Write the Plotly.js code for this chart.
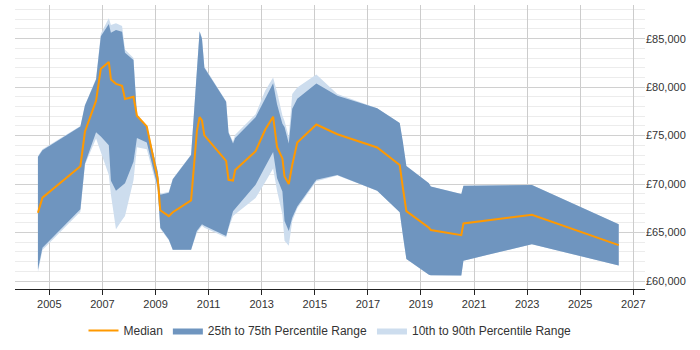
<!DOCTYPE html>
<html><head><meta charset="utf-8">
<script src="https://cdn.plot.ly/plotly-3.0.1.min.js"></script>
<style>html,body{margin:0;padding:0;background:#fff}#chart{width:700px;height:350px}</style>
</head><body><div id="chart"></div>
<script>
const years = [2004.57, 2004.74, 2006.17, 2006.34, 2006.76, 2006.94, 2007.24, 2007.32, 2007.51, 2007.74, 2007.85, 2008.17, 2008.30, 2008.67, 2009.08, 2009.18, 2009.50, 2009.65, 2010.34, 2010.56, 2010.66, 2010.75, 2010.84, 2011.66, 2011.75, 2011.92, 2012.00, 2012.77, 2013.13, 2013.43, 2013.58, 2013.78, 2013.86, 2014.02, 2014.15, 2014.34, 2015.06, 2015.85, 2017.35, 2018.20, 2018.32, 2018.45, 2019.30, 2019.37, 2020.52, 2020.60, 2023.18, 2026.45];
const median = [67040, 68600, 71850, 75400, 78600, 81900, 82600, 80800, 80340, 80130, 78780, 79000, 77050, 75950, 70600, 67300, 66700, 67100, 68330, 75500, 76900, 76560, 75030, 72400, 70440, 70370, 71460, 73400, 75600, 76950, 73800, 72650, 70780, 70000, 71970, 74300, 76150, 75140, 73780, 71970, 69590, 67210, 65510, 65270, 64730, 65950, 66840, 63710];
const p75 = [72800, 73500, 75950, 78100, 80800, 85240, 86500, 85600, 85900, 85700, 83540, 82800, 77100, 76000, 71300, 68900, 69100, 70500, 72990, 82000, 85750, 85000, 82000, 78500, 75300, 74180, 74750, 76900, 78780, 80400, 78200, 76220, 75880, 74180, 77760, 78800, 80370, 79120, 77820, 76290, 74350, 71870, 70100, 69760, 68980, 69830, 69900, 65850];
const p25 = [61200, 63450, 67400, 72100, 75350, 74900, 74000, 70340, 69320, 69800, 70100, 72300, 74760, 74300, 69700, 65500, 64300, 63230, 63230, 65200, 65600, 65850, 65700, 64660, 65550, 67210, 67450, 69930, 71800, 73300, 70600, 69250, 66190, 65170, 66530, 67700, 70440, 70950, 69320, 67110, 64700, 62280, 60650, 60600, 60580, 62110, 63810, 61600];
const p10 = [60900, 63200, 67150, 72000, 74700, 73330, 70950, 68900, 65340, 66300, 66700, 70400, 73800, 73600, 69400, 65400, 64200, 63200, 63200, 65000, 65400, 65700, 65500, 64500, 65400, 66700, 66900, 68570, 70200, 71600, 69300, 66870, 64150, 63640, 66190, 67500, 70300, 70900, 69320, 67110, 64700, 62280, 60650, 60600, 60580, 62110, 63810, 61600];
const p90 = [72900, 73600, 76000, 78150, 80900, 85500, 87100, 86400, 86600, 86300, 83880, 83000, 77150, 76050, 71400, 69000, 69200, 70550, 73050, 82100, 85800, 85100, 82100, 78550, 75400, 74400, 75100, 77200, 79620, 81000, 79460, 77070, 76500, 74860, 79290, 79970, 81300, 79300, 77820, 76290, 74350, 71870, 70100, 69760, 68980, 69830, 69900, 65850];
const names = ["Median", "25th to 75th Percentile Range", "10th to 90th Percentile Range"];

const lightFill = "rgb(205,221,238)";
const darkFill = "rgb(111,149,191)";
const orange = "#ff9900";

const traces = [
  {x: years, y: p10, type: "scatter", mode: "lines", line: {width: 0, color: lightFill}, showlegend: false, hoverinfo: "skip"},
  {x: years, y: p90, type: "scatter", mode: "lines", line: {width: 0, color: lightFill}, fill: "tonexty", fillcolor: lightFill, name: names[2], legendrank: 3},
  {x: years, y: p25, type: "scatter", mode: "lines", line: {width: 0, color: darkFill}, showlegend: false, hoverinfo: "skip"},
  {x: years, y: p75, type: "scatter", mode: "lines", line: {width: 0, color: darkFill}, fill: "tonexty", fillcolor: darkFill, name: names[1], legendrank: 2},
  {x: years, y: median, type: "scatter", mode: "lines", line: {width: 2, color: orange}, name: names[0], legendrank: 1}
];

const layout = {
  width: 700, height: 350,
  margin: {l: 15, r: 55, t: 5, b: 58},
  paper_bgcolor: "#fff", plot_bgcolor: "#fff",
  font: {family: "Liberation Sans, Arial, sans-serif", size: 11, color: "#333"},
  xaxis: {
    range: [2003.706, 2027.44], tick0: 2005, dtick: 2, tickformat: "d",
    showgrid: true, gridcolor: "#cccccc", gridwidth: 1,
    showline: true, linecolor: "#222", linewidth: 1,
    ticks: "outside", ticklen: 5, tickcolor: "#222",
    zeroline: false, tickfont: {size: 11, color: "#333"}
  },
  yaxis: {
    range: [59184, 88470], side: "right", dtick: 5000, tick0: 60000,
    tickprefix: "£", tickformat: ",d",
    showgrid: true, gridcolor: "#d0d0d0", gridwidth: 1,
    minor: {dtick: 1000, showgrid: true, gridcolor: "#ececec", gridwidth: 1},
    zeroline: false, showline: false, ticks: "",
    tickfont: {size: 11, color: "#333"}
  },
  legend: {orientation: "h", x: 0.5, xanchor: "center", y: -0.146, yanchor: "middle",
           font: {size: 12, color: "#333"}, traceorder: "normal", itemwidth: 30},
  showlegend: true
};
Plotly.newPlot("chart", traces, layout, {displayModeBar: false, staticPlot: true});
</script></body></html>
